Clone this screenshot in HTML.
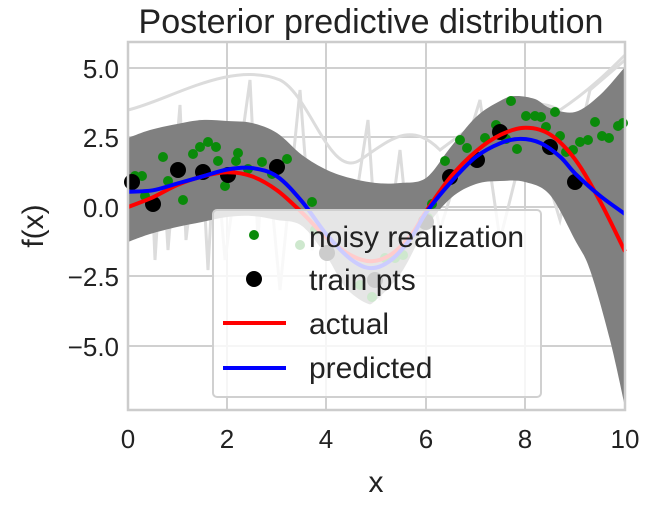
<!DOCTYPE html>
<html><head><style>body{margin:0;background:#fff}svg{display:block;font-family:"Liberation Sans",sans-serif}</style></head><body>
<svg id="s" width="651" height="509" viewBox="0 0 651 509">
<rect x="128" y="42" width="497" height="368" fill="#fff"/>
<g stroke="#d0d0d0" stroke-width="2">
<line x1="227" y1="42" x2="227" y2="410"/><line x1="326" y1="42" x2="326" y2="410"/><line x1="426" y1="42" x2="426" y2="410"/><line x1="525" y1="42" x2="525" y2="410"/>
<line x1="128" y1="68" x2="625" y2="68"/><line x1="128" y1="137" x2="625" y2="137"/><line x1="128" y1="207" x2="625" y2="207"/><line x1="128" y1="276" x2="625" y2="276"/><line x1="128" y1="346" x2="625" y2="346"/>
</g>
<g stroke="#dcdcdc" stroke-width="3" fill="none">
<polyline points="150,140 155,260 162,150 168,250 180,105 186,240 200,120 208,270 215,140 225,260 250,80 258,240 265,130 280,290 300,90 312,250 330,200 345,270 368,120 380,300 400,150 410,250 430,180 440,230 480,100 500,240 530,120 560,220 590,90 625,60"/>
<path d="M128,110 C170,100 230,60 280,80 C310,95 330,180 360,160 C390,140 410,120 440,150 C480,120 520,90 560,110 C590,90 610,70 625,55"/>
</g>
<path id="band" fill="#808080"/>
<g id="pts"></g>
<path id="red" fill="none" stroke="#ff0000" stroke-width="4"/>
<path id="blue" fill="none" stroke="#0000ff" stroke-width="4"/>
<rect x="213" y="210" width="328" height="187" rx="4" fill="#fff" fill-opacity="0.8" stroke="#d0d0d0" stroke-width="2"/>
<circle cx="254" cy="235" r="5" fill="#0a8a0a"/>
<circle cx="254" cy="279" r="8" fill="#000"/>
<line x1="223" y1="323" x2="286" y2="323" stroke="#ff0000" stroke-width="4"/>
<line x1="223" y1="368" x2="286" y2="368" stroke="#0000ff" stroke-width="4"/>
<g font-size="30" fill="#222">
<text x="309" y="247">noisy realization</text>
<text x="309" y="290">train pts</text>
<text x="309" y="334">actual</text>
<text x="309" y="378">predicted</text>
</g>
<rect x="128" y="42" width="497" height="368" fill="none" stroke="#cccccc" stroke-width="2.5"/>
<g font-size="26" fill="#222" text-anchor="middle">
<text x="128" y="448">0</text><text x="227" y="448">2</text><text x="326" y="448">4</text><text x="426" y="448">6</text><text x="525" y="448">8</text><text x="625" y="448">10</text>
</g>
<g font-size="26" fill="#222" text-anchor="end">
<text x="119" y="78">5.0</text><text x="119" y="147">2.5</text><text x="119" y="217">0.0</text><text x="119" y="286">−2.5</text><text x="119" y="356">−5.0</text>
</g>
<text x="376" y="492" font-size="30" fill="#222" text-anchor="middle">x</text>
<text transform="translate(43,226) rotate(-90)" font-size="30" fill="#222" text-anchor="middle">f(x)</text>
<text x="371" y="33" font-size="34" fill="#222" text-anchor="middle">Posterior predictive distribution</text>
</svg>
<script>
function cr(p){var d="M"+p[0][0]+","+p[0][1];for(var i=0;i<p.length-1;i++){var a=p[Math.max(i-1,0)],b=p[i],c=p[i+1],e=p[Math.min(i+2,p.length-1)];d+=" C"+(b[0]+(c[0]-a[0])/6)+","+(b[1]+(c[1]-a[1])/6)+" "+(c[0]-(e[0]-b[0])/6)+","+(c[1]-(e[1]-b[1])/6)+" "+c[0]+","+c[1];}return d;}
function tp(a){return a.map(function(q){return[128+49.7*q[0],207-27.8*q[1]]});}
var red=[[0,0],[0.5,.35],[1,.8],[1.5,1.1],[2,1.25],[2.5,1.1],[3,.6],[3.5,-.2],[4,-1.1],[4.5,-1.75],[4.9,-1.95],[5.3,-1.7],[5.7,-1.0],[6,-0.15],[6.5,1.1],[7,2.0],[7.5,2.6],[8,2.85],[8.5,2.6],[9,1.7],[9.5,0.2],[10,-1.6]];
var blue=[[0,.55],[0.5,.6],[1,.85],[1.5,1.1],[2,1.35],[2.5,1.4],[3,1.1],[3.5,.2],[4,-1.0],[4.5,-1.9],[4.9,-2.2],[5.3,-1.9],[5.7,-1.1],[6,-0.2],[6.5,0.9],[7,1.8],[7.5,2.3],[7.9,2.45],[8.3,2.3],[8.7,1.8],[9,1.2],[9.5,0.4],[10,-0.25]];
document.getElementById("red").setAttribute("d",cr(tp(red)));
document.getElementById("blue").setAttribute("d",cr(tp(blue)));
var up=[[128,138],[150,130],[177,124],[202,120],[227,121],[252,123],[277,133],[302,155],[327,170],[350,178],[376,183],[400,183],[426,178],[450,148],[476,117],[500,101],[515,96],[535,99],[550,108],[575,112],[600,95],[625,67]];
var lo=[[625,407],[610,340],[590,270],[575,240],[550,195],[525,182],[500,181],[476,184],[451,198],[426,228],[401,273],[376,300],[366,303],[345,287],[327,257],[302,226],[277,220],[252,216],[227,217],[202,222],[177,227],[150,234],[128,242]];
document.getElementById("band").setAttribute("d",cr(up)+" L"+cr(lo).slice(1)+" Z");
var g=document.getElementById("pts"),ns="http://www.w3.org/2000/svg";
var gr=[[135,176],[142,176],[145,196],[163,157],[168,181],[183,200],[193,154],[200,147],[208,142],[216,147],[225,186],[218,161],[236,161],[238,153],[248,169],[262,162],[272,174],[287,159],[312,202],[432,204],[428,218],[445,161],[460,140],[467,148],[475,157],[485,138],[496,125],[506,139],[511,101],[517,149],[526,116],[535,116],[541,117],[546,127],[555,112],[560,136],[566,152],[573,150],[580,142],[588,140],[595,122],[602,136],[609,138],[618,126],[623,123],[300,245],[315,230],[360,285],[372,297],[385,258],[395,258],[403,255]];
gr.forEach(function(p){var c=document.createElementNS(ns,"circle");c.setAttribute("cx",p[0]);c.setAttribute("cy",p[1]);c.setAttribute("r",5);c.setAttribute("fill","#0a8a0a");g.appendChild(c);});
[[132,182],[153,204],[178,170],[203,172],[228,175],[277,167],[450,177],[477,160],[500,132],[550,147],[575,182],[327,253],[375,280],[426,222]].forEach(function(p){var c=document.createElementNS(ns,"circle");c.setAttribute("cx",p[0]);c.setAttribute("cy",p[1]);c.setAttribute("r",8);c.setAttribute("fill","#000");g.appendChild(c);});
</script>
</body></html>
